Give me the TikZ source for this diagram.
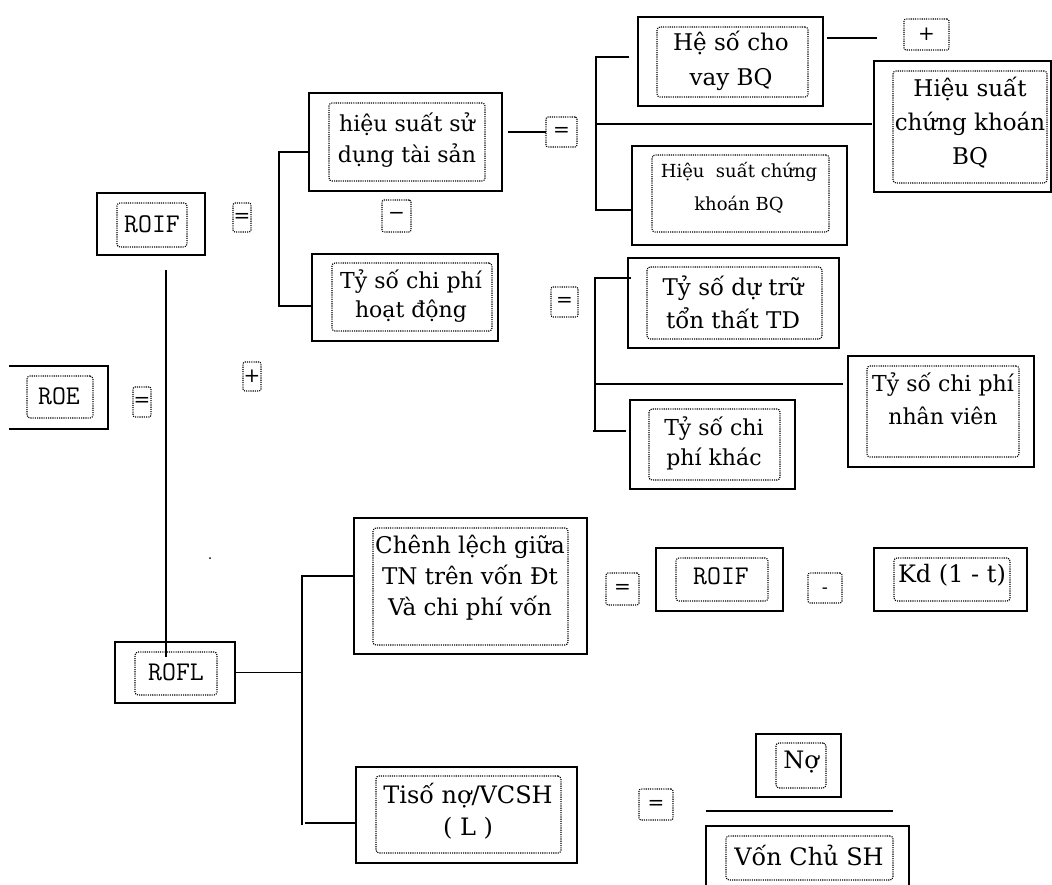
\documentclass[tikz,border=0pt]{standalone}
\usepackage{fontspec}
\setmainfont{DejaVu Serif}
\usetikzlibrary{calc}
\tikzset{
  ob/.style={draw, line width=1.7pt, rectangle, inner sep=0pt, outer sep=0pt},
  obnd/.style={rectangle, inner sep=0pt, outer sep=0pt},
  ib/.style={draw, line width=1.1pt, dash pattern=on 1.1pt off 1.1pt, rounded corners=3pt, rectangle, inner sep=0pt, outer sep=0pt},
  op/.style={draw, line width=1.1pt, dash pattern=on 1.1pt off 1.1pt, rounded corners=2pt, rectangle, inner sep=0pt, outer sep=0pt, font=\fontsize{20}{20}\selectfont},
  conn/.style={line width=1.7pt},
  txt/.style={align=center, inner sep=0pt},
  mono/.style={inner sep=0pt, font=\ttfamily\fontsize{27}{27}\selectfont\addfontfeature{LetterSpace=14,FakeBold=1.2}},
  fa/.style={font=\fontsize{22}{31}\selectfont},
}
\begin{document}
\begin{tikzpicture}[x=1pt,y=-1pt]
\useasboundingbox (0,0) rectangle (1052,884);
\clip (0,0) rectangle (1052,884);

% ROIF
\node[ob, minimum width=108pt, minimum height=62pt] (roifO) at (151,224) {};
\node[ib, minimum width=70pt, minimum height=44pt] (roifI) at (152,225) {};
\node[mono] (roifT) at (152,224) {ROIF};
\node[op, minimum width=18pt, minimum height=29pt] (eq1) at (242,217.5) {=};

% ROE (no left edge)
\node[obnd, minimum width=99pt, minimum height=63pt] (roeO) at (58.5,397.5) {};
\draw[line width=1.7pt] (roeO.north west) -- (roeO.north east) -- (roeO.south east) -- (roeO.south west);
\node[ib, minimum width=66pt, minimum height=42pt] (roeI) at (60,397) {};
\node[mono] (roeT) at (59,396) {ROE};
\node[op, minimum width=18pt, minimum height=30pt] (eq2) at (142,402) {=};
\node[op, minimum width=18pt, minimum height=29pt] (plus1) at (252,376.5) {+};

% hieu suat su dung tai san
\node[ob, minimum width=193pt, minimum height=98pt] (hstsO) at (405.5,142) {};
\node[ib, minimum width=156pt, minimum height=78pt] (hstsI) at (407,142) {};
\node[txt, fa] (hstsT) at (407,140) {hiệu suất sử\\dụng tài sản};
\node[op, minimum width=29pt, minimum height=32pt] (minus1) at (396.5,216) {−};
\node[op, minimum width=31pt, minimum height=30pt] (eq3) at (561.5,132) {=};

% Ty so chi phi hoat dong
\node[ob, minimum width=186pt, minimum height=87pt] (tscpO) at (405,297.5) {};
\node[ib, minimum width=160pt, minimum height=68pt] (tscpI) at (412,297) {};
\node[txt, font=\fontsize{22}{29}\selectfont] (tscpT) at (411,296) {Tỷ số chi phí\\hoạt động};
\node[op, minimum width=27pt, minimum height=30pt] (eq4) at (564.5,302) {=};

% He so cho vay BQ
\node[ob, minimum width=185pt, minimum height=89pt] (hscO) at (730.5,61.5) {};
\node[ib, minimum width=151pt, minimum height=70pt] (hscI) at (732.5,62) {};
\node[txt, font=\fontsize{23}{35}\selectfont] (hscT) at (731,61) {Hệ số cho\\vay BQ};
\node[op, minimum width=45pt, minimum height=31pt] (plus2) at (926.5,34.5) {+};

% Hieu suat chung khoan BQ (right)
\node[ob, minimum width=177pt, minimum height=131pt] (hsck1O) at (962.5,126.5) {};
\node[ib, minimum width=154pt, minimum height=112pt] (hsck1I) at (970,127) {};
\node[txt, font=\fontsize{23}{34}\selectfont] (hsck1T) at (970,123) {Hiệu suất\\chứng khoán\\BQ};

% Hieu suat chung khoan BQ (middle)
\node[ob, minimum width=215pt, minimum height=99pt] (hsck2O) at (739.5,195.5) {};
\node[ib, minimum width=177pt, minimum height=77pt] (hsck2I) at (740.5,193.5) {};
\node[txt, font=\fontsize{18}{33}\selectfont] (hsck2T) at (739,188) {Hiệu\ \ suất chứng\\khoán BQ};

% Ty so du tru ton that TD
\node[ob, minimum width=211pt, minimum height=90pt] (tsdtO) at (733.5,303) {};
\node[ib, minimum width=175pt, minimum height=72pt] (tsdtI) at (734.5,303) {};
\node[txt, font=\fontsize{23}{33}\selectfont] (tsdtT) at (733,302) {Tỷ số dự trữ\\tổn thất TD};

% Ty so chi phi nhan vien
\node[ob, minimum width=186pt, minimum height=111pt] (tsnvO) at (941,411.5) {};
\node[ib, minimum width=152pt, minimum height=91pt] (tsnvI) at (943,411.5) {};
\node[txt, font=\fontsize{22}{33}\selectfont] (tsnvT) at (943,399) {Tỷ số chi phí\\nhân viên};

% Ty so chi phi khac
\node[ob, minimum width=165pt, minimum height=89pt] (tskO) at (712.5,444.5) {};
\node[ib, minimum width=131pt, minimum height=71pt] (tskI) at (714.5,444.5) {};
\node[txt, font=\fontsize{22}{30}\selectfont] (tskT) at (714,443) {Tỷ số chi\\phí khác};

% ROFL
\node[ob, minimum width=120pt, minimum height=61pt] (roflO) at (175,672.5) {};
\node[ib, minimum width=82pt, minimum height=43pt] (roflI) at (176,673.5) {};
\node[mono] (roflT) at (176,672) {ROFL};

% Chenh lech
\node[ob, minimum width=233pt, minimum height=136pt] (clO) at (470.5,586) {};
\node[ib, minimum width=195pt, minimum height=117pt] (clI) at (470.5,586.5) {};
\node[txt, font=\fontsize{23}{31}\selectfont] (clT) at (470,578) {Chênh lệch giữa\\TN trên vốn Đt\\Và chi phí vốn};
\node[op, minimum width=33pt, minimum height=32pt] (eq5) at (622.5,589) {=};

% ROIF (2)
\node[ob, minimum width=127pt, minimum height=63pt] (roif2O) at (719.5,579.5) {};
\node[ib, minimum width=92pt, minimum height=43pt] (roif2I) at (722,579.5) {};
\node[mono] (roif2T) at (721,576) {ROIF};
\node[op, minimum width=34pt, minimum height=30pt] (minus2) at (825,588) {};
\node[inner sep=0pt, font=\fontsize{18}{18}\selectfont] (minus2T) at (825,591) {-};

% Kd (1 - t)
\node[ob, minimum width=153pt, minimum height=63pt] (kdO) at (950.5,579.5) {};
\node[ib, minimum width=116pt, minimum height=43pt] (kdI) at (952,579.5) {};
\node[txt, font=\fontsize{24}{24}\selectfont] (kdT) at (952,575) {Kd (1 - t)};

% Tiso no/VCSH
\node[ob, minimum width=221pt, minimum height=96pt] (tsnO) at (466.5,815) {};
\node[ib, minimum width=185pt, minimum height=77pt] (tsnI) at (468.5,814.5) {};
\node[txt, font=\fontsize{24}{32}\selectfont] (tsnT) at (468,811) {Tisố nợ/VCSH\\( L )};
\node[op, minimum width=34pt, minimum height=31pt] (eq6) at (656,804.5) {=};

% No
\node[ob, minimum width=85pt, minimum height=63pt] (noO) at (798.5,765.5) {};
\node[ib, minimum width=50pt, minimum height=45pt] (noI) at (801,765.5) {};
\node[txt, font=\fontsize{24}{24}\selectfont] (noT) at (801,762) {Nợ};

% Von Chu SH
\node[ob, minimum width=203pt, minimum height=74pt] (vcshO) at (807.5,863) {};
\node[ib, minimum width=167pt, minimum height=44pt] (vcshI) at (809.5,858) {};
\node[txt, font=\fontsize{24}{24}\selectfont] (vcshT) at (809,855) {Vốn Chủ SH};

% connectors
\draw[conn] ([xshift=15pt,yshift=-15pt]roifO.south) -- ([xshift=-9pt,yshift=-15pt]roflO.north);

\coordinate (s1) at (279,152);
\coordinate (s2) at (279,306);
\draw[conn] ([yshift=-10pt]hstsO.west) -- (s1) -- (s2) -- (s2 -| tscpO.west);

\draw[conn] ([xshift=6pt,yshift=10pt]hstsO.east) -- (eq3.west);

\coordinate (r1) at (596,57);
\coordinate (r2) at (596,210);
\coordinate (r3) at (596,124);
\draw[conn] ([xshift=-9pt,yshift=4.5pt]hscO.west) -- (r1) -- (r2) -- (r2 -| hsck2O.west);
\draw[conn] (r3) -- ([xshift=-2pt]r3 -| hsck1O.west);

\draw[conn] ([xshift=4pt,yshift=23.5pt]hscO.east) -- ++(50,0);

\coordinate (t1) at (595,278);
\coordinate (t2) at (595,432);
\coordinate (t3) at (595,384);
\coordinate (t4) at (593,431);
\draw[conn] ([xshift=3pt]t1 -| tsdtO.west) -- (t1) -- (t2);
\draw[conn] (t3) -- ([xshift=-5pt]t3 -| tsnvO.west);
\draw[conn] (t4) -- ([xshift=-4pt]t4 -| tskO.west);

\coordinate (f1) at (302,576);
\coordinate (f2) at (302,825);
\draw[conn] (roflO.east) -- (roflO.east -| f1);
\draw[conn] (f2) -- (f1) -- (f1 -| clO.west);
\draw[conn] ([yshift=-8pt]tsnO.west) -- ++(-51,0);

\draw[conn] ([yshift=15pt]vcshO.north west) -- ([xshift=-16pt,yshift=15pt]vcshO.north east);

\fill (210,558) circle (1pt);
\end{tikzpicture}
\end{document}
